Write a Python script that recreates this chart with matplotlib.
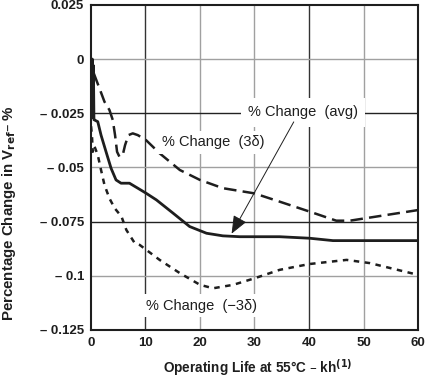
import matplotlib
matplotlib.use("Agg")
import matplotlib.pyplot as plt
import numpy as np

plt.rcParams['font.family'] = ['Liberation Sans', 'DejaVu Sans']

# Data (kh, % change)
avg_x = [0.1, 0.25, 0.35, 0.45, 0.55, 0.64, 1.25, 1.85, 2.77, 3.69, 4.6, 5.52, 7.06, 8.59, 10.1,
         12.0, 15.1, 18.1, 21.2, 24.2, 27.3, 34.6, 40.1, 44.4, 50.0, 60.0]
avg_y = [-0.020, 0.0, -0.027, -0.003, -0.028, -0.0281, -0.0289, -0.0351, -0.0428, -0.0504, -0.0558, -0.0573, -0.0573, -0.0596, -0.0619,
         -0.065, -0.0712, -0.0773, -0.0804, -0.0816, -0.082, -0.082, -0.0827, -0.0838, -0.0838, -0.0838]

p3_x = [0.2, 0.33, 0.64, 1.56, 2.48, 3.39, 4.0, 4.42, 4.79, 5.23, 5.83, 6.26, 6.88, 7.67, 8.59, 10.1,
        12.6, 16.3, 20.0, 24.2, 30.0, 34.6, 40.1, 45.0, 47.5, 60.0]
p3_y = [-0.012, -0.0051, -0.0074, -0.0135, -0.0197, -0.0235, -0.0281, -0.0351, -0.0428, -0.0451, -0.0443, -0.0397, -0.0351, -0.0343, -0.0351, -0.0374,
        -0.0435, -0.0512, -0.0558, -0.0596, -0.062, -0.0658, -0.0704, -0.0746, -0.0746, -0.0697]

m3_x = [0.02, 0.2, 0.33, 0.6, 1.25, 1.85, 2.48, 3.39, 4.37, 5.6, 6.5, 8.04, 8.95, 12.6, 16.3, 20.0, 22.4, 26.1,
        30.0, 34.6, 40.1, 46.9, 51.2, 60.0]
m3_y = [-0.031, -0.036, -0.0428, -0.040, -0.0443, -0.0512, -0.0581, -0.0643, -0.0689, -0.0727, -0.0789, -0.085, -0.0858, -0.0927, -0.0988, -0.1042, -0.1058, -0.1042,
        -0.1012, -0.0973, -0.0946, -0.0927, -0.0942, -0.0996]

xticks = [0, 10, 20, 30, 40, 50, 60]
yticks = [0.025, 0, -0.025, -0.05, -0.075, -0.1, -0.125]
ytick_labels = ["0.025", "0", "\u2013 0.025", "\u2013 0.05", "\u2013 0.075", "\u2013 0.1", "\u2013 0.125"]

fig = plt.figure(figsize=(4.27, 3.77), dpi=100)
ax = fig.add_axes([0.213, 0.125, 0.766, 0.862])
ax.set_xlim(0, 60)
ax.set_ylim(-0.125, 0.025)

dark = '#1e1e1e'
for xv in [10, 20, 30, 40, 50]:
    c = '#333333' if xv in (10, 40) else '#a0a0a0'
    ax.axvline(xv, color=c, lw=1.0, zorder=1)
for yv in [0, -0.025, -0.05, -0.075, -0.1]:
    c = '#222222' if yv in (-0.025, -0.075) else '#a0a0a0'
    ax.axhline(yv, color=c, lw=1.0, zorder=1)

ax.plot(avg_x, avg_y, color=dark, lw=2.0, zorder=3, solid_joinstyle='round')
ax.plot(p3_x, p3_y, color=dark, lw=1.8, dashes=(5, 2.5), zorder=3)
ax.plot(m3_x, m3_y, color=dark, lw=1.8, dashes=(2.2, 2.2), zorder=3)

ax.text(38.9, -0.0246, "% Change  (avg)", ha='center', va='center', fontsize=10.5,
        color=dark, bbox=dict(facecolor='white', edgecolor='none', boxstyle='square,pad=0.5'), zorder=4)
ax.text(22.4, -0.0384, "% Change  (3\u03b4)", ha='center', va='center', fontsize=10.5,
        color=dark, bbox=dict(facecolor='white', edgecolor='none', boxstyle='square,pad=0.3'), zorder=4)
ax.text(20.3, -0.1139, "% Change  (\u22123\u03b4)", ha='center', va='center', fontsize=10.5,
        color=dark, bbox=dict(facecolor='white', edgecolor='none', boxstyle='square,pad=0.3'), zorder=4)
ax.annotate("", xy=(25.8, -0.0806), xytext=(37.2, -0.0290),
            arrowprops=dict(arrowstyle='-|>,head_length=1.1,head_width=0.45', color=dark, lw=0.7,
                            shrinkA=0, shrinkB=0), zorder=5)

ax.set_xticks(xticks)
ax.set_xticklabels([str(v) for v in xticks], fontweight='bold', fontsize=9.5, color=dark)
ax.set_yticks(yticks)
ax.set_yticklabels(ytick_labels, fontweight='bold', fontsize=9.5, color=dark)
ax.tick_params(length=0, pad=5)
for s in ax.spines.values():
    s.set_linewidth(1.5)
    s.set_color(dark)
    s.set_zorder(6)

ax.set_xlabel("Operating Life at 55\u00b0C \u2013 kh$^{\\mathbf{(1)}}$", fontweight='bold', fontsize=9.8, color=dark)
ax.set_ylabel("Percentage Change in V$_{\\mathbf{ref}}$\u2013 %", fontweight='bold', fontsize=10.8, color=dark)
ax.yaxis.set_label_coords(-0.222, 0.36)
ax.xaxis.set_label_coords(0.51, -0.085)

fig.savefig("out.png", dpi=100)
